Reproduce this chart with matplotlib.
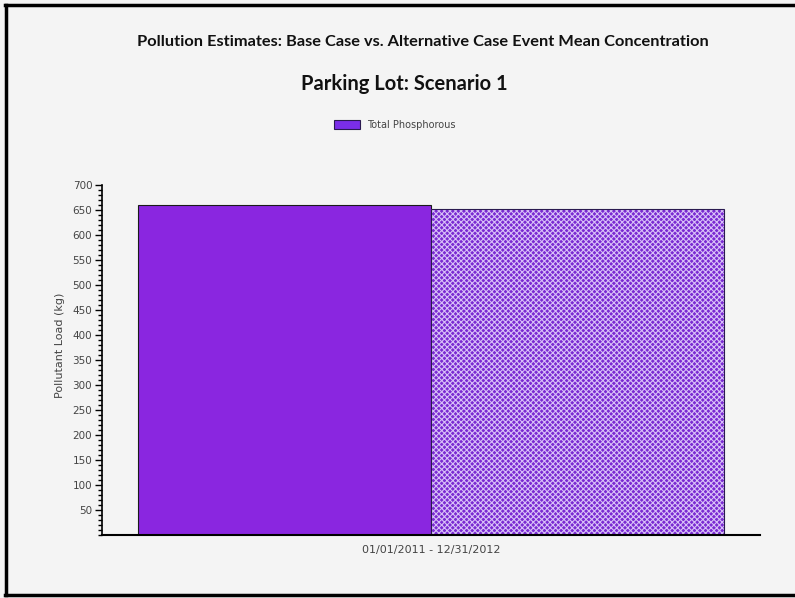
import matplotlib
matplotlib.use('Agg')
import matplotlib.pyplot as plt
from matplotlib.lines import Line2D
from matplotlib.patches import Patch
from matplotlib.ticker import MultipleLocator

# pollutant loads for the two cases (kg)
cases = ['Base Case', 'Alternative Case']
loads = [661, 652]
period = '01/01/2011 - 12/31/2012'
pollutant = 'Total Phosphorous'
yticks = [50, 100, 150, 200, 250, 300, 350, 400, 450, 500, 550, 600, 650, 700]

W, H = 795, 598
bg = '#f4f4f4'
purple = '#8a26e0'

plt.rcParams['hatch.linewidth'] = 0.8

fig = plt.figure(figsize=(W / 100, H / 100), dpi=100, facecolor=bg)

def fx(px):
    return px / W

def fy(py):
    return 1 - py / H

ax = fig.add_axes([fx(102), fy(535), fx(760) - fx(102), fy(185) - fy(535)])
ax.set_facecolor(bg)

# bars sit edge to edge: base at [0,1], alternative at [1,2]
ax.bar(0, loads[0], width=1, align='edge', color=purple, edgecolor='#1a1a1a', linewidth=0.8)
# hatched fill takes its colour from the edge, so the outline is a second pass
ax.bar(1, loads[1], width=1, align='edge', color='#7a2ad2', edgecolor='#d8c0f8',
       linewidth=0, hatch='xxxxxx')
ax.bar(1, loads[1], width=1, align='edge', fill=False, edgecolor='#2a1a50', linewidth=0.8)

ax.set_xlim(-0.123, 2.123)
ax.set_ylim(0, 700)
ax.set_yticks(yticks)
ax.yaxis.set_minor_locator(MultipleLocator(10))
ax.tick_params(axis='y', which='major', length=5, width=1, direction='out',
               labelsize=7.5, labelcolor='#444444', pad=2)
ax.tick_params(axis='y', which='minor', length=3, width=1, direction='out')
ax.set_xticks([1])
ax.set_xticklabels([period], fontsize=8, color='#444444')
ax.tick_params(axis='x', length=0, pad=7)

for s in ['top', 'right']:
    ax.spines[s].set_visible(False)
ax.spines['left'].set_linewidth(1.2)
ax.spines['bottom'].set_linewidth(1.5)

fig.text(fx(60), fy(345), 'Pollutant Load (kg)', rotation=90, ha='center', va='center',
         fontsize=8, color='#444444')

fig.text(fx(423), fy(42), 'Pollution Estimates: Base Case vs. Alternative Case Event Mean Concentration',
         ha='center', va='center', fontsize=11.8, fontweight='bold', family='Lato', color='#111111')
fig.text(fx(404), fy(84), 'Parking Lot: Scenario 1', ha='center', va='center',
         fontsize=14.5, fontweight='bold', family='Lato', color='#111111')

handle = Patch(facecolor='#7a2ee8', edgecolor='#2a1a50', linewidth=0.8)
fig.legend([handle], [pollutant], loc='center', bbox_to_anchor=(fx(395), fy(125)),
           frameon=False, fontsize=7, handlelength=2.6, handleheight=1.1,
           labelcolor='#444444')

# outer frame (top, left, bottom)
fig.add_artist(Line2D([fx(5), 1], [fy(5), fy(5)], color='black', lw=2.5))
fig.add_artist(Line2D([fx(6), fx(6)], [fy(5), fy(595)], color='black', lw=2.5))
fig.add_artist(Line2D([fx(5), 1], [fy(595), fy(595)], color='black', lw=2.5))

fig.savefig('out.png', dpi=100, facecolor=bg)
